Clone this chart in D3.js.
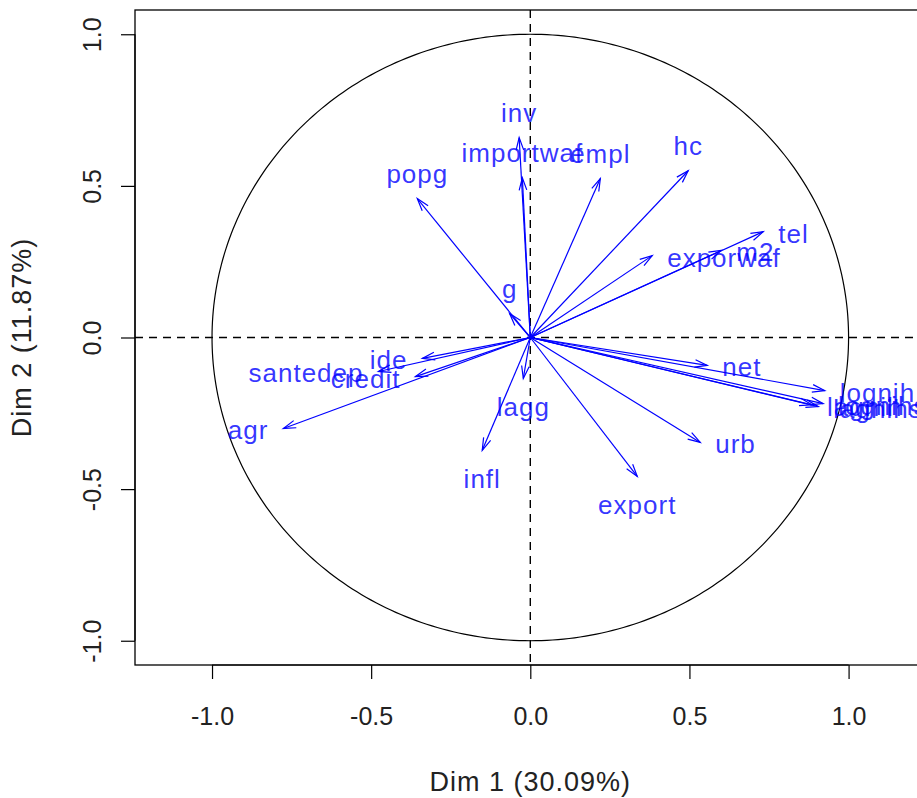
<!DOCTYPE html>
<html>
<head>
<meta charset="utf-8">
<script src="https://cdn.jsdelivr.net/npm/d3@7"></script>
<style>
  html, body { margin: 0; padding: 0; background: #fff; }
  svg { display: block; }
  text { font-family: "Liberation Sans", Arial, sans-serif; }
</style>
</head>
<body>
<svg id="chart" width="917" height="798"></svg>
<script>
// ---- data ----
const variables = ["inv","importwaf","empl","hc","popg","tel","m2","exporwaf","g","lagg","infl","export","urb","net","lognih","lagnih","lognihsk","lagnihsk","ide","credit","santedep","agr"];
const dim1 = [-0.035,-0.025, 0.220, 0.496,-0.355, 0.732, 0.600, 0.383,-0.065,-0.022,-0.151, 0.336, 0.534, 0.556, 0.925, 0.885, 0.920, 0.905,-0.339,-0.361,-0.477,-0.776];
const dim2 = [ 0.659, 0.527, 0.524, 0.550, 0.458, 0.349, 0.287, 0.270, 0.079,-0.135,-0.372,-0.458,-0.346,-0.092,-0.175,-0.222,-0.218,-0.228,-0.069,-0.129,-0.112,-0.300];
const xTicks = [-1.0, -0.5, 0.0, 0.5, 1.0];
const yTicks = [-1.0, -0.5, 0.0, 0.5, 1.0];
const xTitle = "Dim 1 (30.09%)";
const yTitle = "Dim 2 (11.87%)";

// ---- layout ----
const svg = d3.select("#chart");
const box = {left: 135, right: 925.6, top: 10, bottom: 665};
const x = d3.scaleLinear().domain([-1.242, 1.242]).range([box.left, box.right]);
const y = d3.scaleLinear().domain([-1.08, 1.08]).range([box.bottom, box.top]);
const fs = 25, fsLab = 26, fsTitle = 27;
const blue = "#0000ff";

// frame
svg.append("rect")
  .attr("x", box.left).attr("y", box.top)
  .attr("width", box.right - box.left).attr("height", box.bottom - box.top)
  .attr("fill", "none").attr("stroke", "#000").attr("stroke-width", 1.3);

// x axis
const xAxis = d3.axisBottom(x).tickValues(xTicks).tickSize(14).tickPadding(28)
  .tickFormat(d3.format(".1f"));
const gx = svg.append("g").attr("transform", `translate(0,${box.bottom})`).call(xAxis);
gx.select(".domain").attr("d", `M${x(-1)},0H${x(1)}`).attr("stroke", "#000").attr("stroke-width", 1.2);
gx.selectAll(".tick line").attr("stroke", "#000").attr("stroke-width", 1.2);
gx.selectAll(".tick text").attr("font-size", fs).attr("fill", "#222")
  .attr("font-family", "Liberation Sans, Arial, sans-serif").text(d => d3.format(".1f")(d).replace("−","-"));

// y axis
const yAxis = d3.axisLeft(y).tickValues(yTicks).tickSize(14).tickPadding(0)
  .tickFormat(d3.format(".1f"));
const gy = svg.append("g").attr("transform", `translate(${box.left},0)`).call(yAxis);
gy.select(".domain").attr("d", `M0,${y(-1)}V${y(1)}`).attr("stroke", "#000").attr("stroke-width", 1.2);
gy.selectAll(".tick line").attr("stroke", "#000").attr("stroke-width", 1.2);
gy.selectAll(".tick text").attr("font-size", fs).attr("fill", "#222")
  .attr("font-family", "Liberation Sans, Arial, sans-serif")
  .attr("x", null).attr("dy", null)
  .attr("text-anchor", "middle").attr("dominant-baseline", "central")
  .attr("transform", "translate(-43,0) rotate(-90)")
  .text(d => d3.format(".1f")(d).replace("−","-"));

// titles
svg.append("text").attr("x", x(0)).attr("y", 782)
  .attr("text-anchor", "middle").attr("dominant-baseline", "central")
  .attr("font-size", fsTitle).attr("letter-spacing", 1).attr("fill", "#222").text(xTitle);
svg.append("text").attr("transform", `translate(22,${y(0)}) rotate(-90)`)
  .attr("text-anchor", "middle").attr("dominant-baseline", "central")
  .attr("font-size", fsTitle).attr("letter-spacing", 1).attr("fill", "#222").text(yTitle);

// dashed reference lines
svg.append("line").attr("x1", box.left).attr("x2", box.right).attr("y1", y(0)).attr("y2", y(0))
  .attr("stroke", "#000").attr("stroke-width", 1.4).attr("stroke-dasharray", "8,6");
svg.append("line").attr("x1", x(0)).attr("x2", x(0)).attr("y1", box.top).attr("y2", box.bottom)
  .attr("stroke", "#000").attr("stroke-width", 1.4).attr("stroke-dasharray", "8,6");

// unit circle
const angles = d3.range(0, 361, 1).map(a => a * Math.PI / 180);
svg.append("path")
  .attr("d", d3.line().x(a => x(Math.cos(a))).y(a => y(Math.sin(a)))(angles))
  .attr("fill", "none").attr("stroke", "#000").attr("stroke-width", 1.2);

// arrows
const data = variables.map((v, i) => ({name: v, d1: dim1[i], d2: dim2[i]}));
const headLen = 13, headAng = 17 * Math.PI / 180;
const ga = svg.append("g");
data.forEach(d => {
  const x0 = x(0), y0 = y(0), x1 = x(d.d1), y1 = y(d.d2);
  const th = Math.atan2(y1 - y0, x1 - x0);
  ga.append("line").attr("x1", x0).attr("y1", y0).attr("x2", x1).attr("y2", y1)
    .attr("stroke", blue).attr("stroke-width", 1.2);
  const p1 = [x1 - headLen * Math.cos(th - headAng), y1 - headLen * Math.sin(th - headAng)];
  const p2 = [x1 - headLen * Math.cos(th + headAng), y1 - headLen * Math.sin(th + headAng)];
  ga.append("path").attr("d", `M${p1[0]},${p1[1]}L${x1},${y1}L${p2[0]},${p2[1]}`)
    .attr("fill", "none").attr("stroke", blue).attr("stroke-width", 1.2);
});

// labels
data.forEach(d => {
  const x1 = x(d.d1), y1 = y(d.d2);
  let pos;
  if (Math.abs(d.d1) > Math.abs(d.d2)) pos = d.d1 > 0 ? 4 : 2;
  else pos = d.d2 > 0 ? 3 : 1;
  let tx = x1, ty = y1, anchor = "middle";
  if (pos === 3) ty = y1 - 25;
  if (pos === 1) ty = y1 + 29;
  if (pos === 4) { tx = x1 + 15; ty = y1 + 2; anchor = "start"; }
  if (pos === 2) { tx = x1 - 15; ty = y1 + 2; anchor = "end"; }
  svg.append("text").attr("x", tx).attr("y", ty)
    .attr("text-anchor", anchor).attr("dominant-baseline", "central")
    .attr("font-size", fsLab).attr("letter-spacing", 1)
    .attr("fill", blue).attr("fill-opacity", 0.8)
    .text(d.name);
});
</script>
</body>
</html>
